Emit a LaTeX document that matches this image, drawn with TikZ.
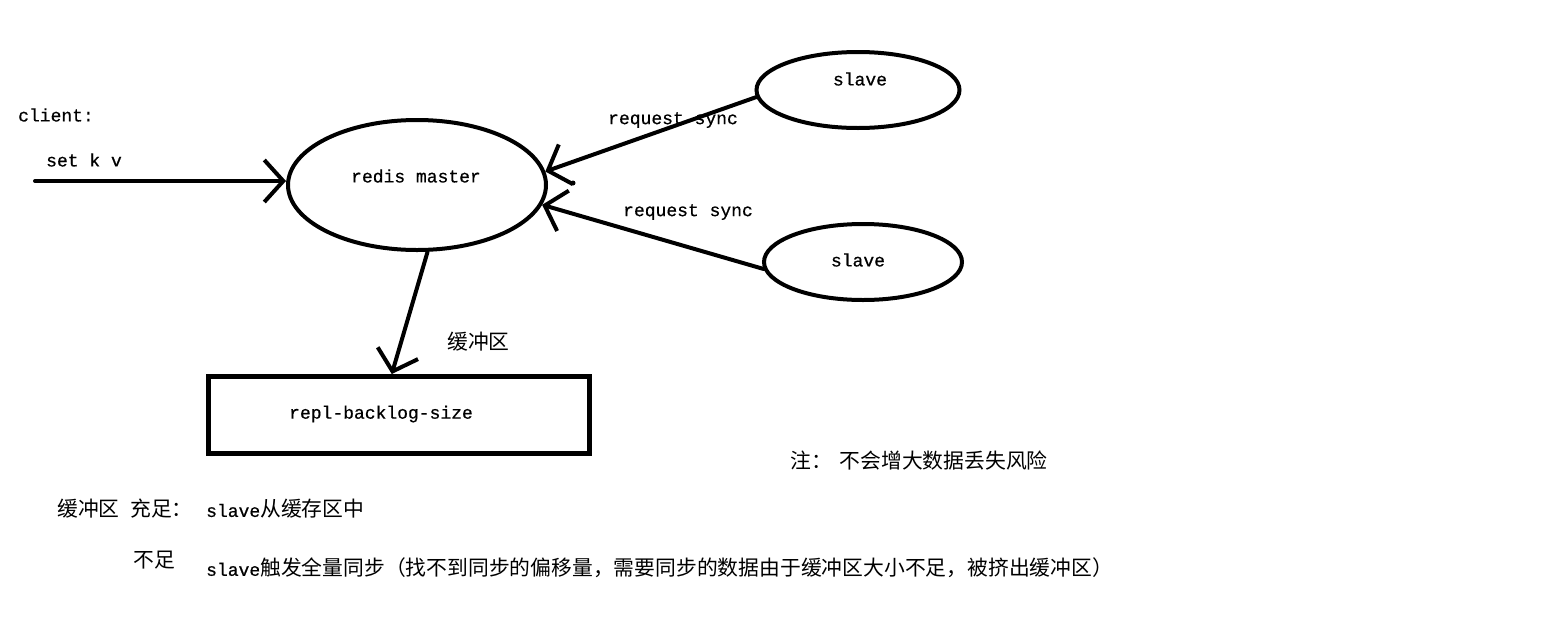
\documentclass[tikz,border=0pt]{standalone}
\usepackage{fontspec}
\setmonofont{Liberation Mono}[FakeBold=0.6]
\newfontfamily\cjk{Noto Sans CJK SC}
\usetikzlibrary{shapes.geometric,arrows.meta}
\newcommand{\zh}[1]{{\cjk\fontsize{20.8}{23}\selectfont #1}}
\begin{document}
\begin{tikzpicture}[x=1pt,y=-1pt,
  lbl/.style={font=\ttfamily\fontsize{18}{20}\selectfont, inner sep=0pt, anchor=west},
  cj/.style={font=\cjk\fontsize{20.8}{23}\selectfont, inner sep=0pt, anchor=west},
  oval/.style={draw, ellipse, line width=4pt, inner sep=0pt},
  arr/.style={line width=4pt, line cap=round, -{Straight Barb[length=19pt,width=42pt]}}]
\useasboundingbox (0,0) rectangle (1561,643);
\fill[white] (0,0) rectangle (1561,643);

% shapes
\node[oval, minimum width=258pt, minimum height=130pt] (master) at (417,185) {};
\node[oval, minimum width=203pt, minimum height=76pt] (s1) at (858,90) {};
\node[oval, minimum width=198pt, minimum height=76pt] (s2) at (863,262) {};
\node[draw, line width=5pt, minimum width=381pt, minimum height=77pt, inner sep=0pt] (box) at (399,415) {};
\node[circle, fill, inner sep=0pt, minimum size=5pt] (dot) at (573,183) {};

% texts
\node[lbl] (tclient) at (18,115) {client:};
\node[lbl] (tset) at (46,160) {set k v};
\node[lbl, anchor=center] (tmaster) at (416,176) {redis master};
\node[lbl, anchor=center] (ts1) at (860,79) {slave};
\node[lbl, anchor=center] (ts2) at (858,260) {slave};
\node[lbl] (treq1) at (608,120) {request sync};
\node[lbl] (treq2) at (623,212) {request sync};
\node[cj] (tbuf) at (447,342) {缓冲区};
\node[lbl] (trepl) at (289,414) {repl-backlog-size};
\node[cj] (tnote) at (790,461) {注：\hspace{8pt}不会增大数据丢失风险};
\node[cj] (tbuf2) at (57,509) {缓冲区};
\node[cj] (tenough) at (130,509) {充足：};
\node[lbl] (tenough2) at (206,509) {slave\zh{从缓存区中}};
\node[cj] (tnot) at (133,560) {不足};
\node[lbl] (tnot2) at (206,568) {slave\zh{触发全量同步（找不到同步的偏移量，需要同步的数据由于缓冲区大小不足，被挤出缓冲区）}};

% connectors
\coordinate (cl) at (35,181);
\draw[arr] (cl) -- (cl -| master.west);
\draw[arr] (s1.184) -- (master.6);
\draw[arr] (s2.184) -- (master.-9);
\draw[arr] (master.-81) -- (box.100);
\end{tikzpicture}
\end{document}
